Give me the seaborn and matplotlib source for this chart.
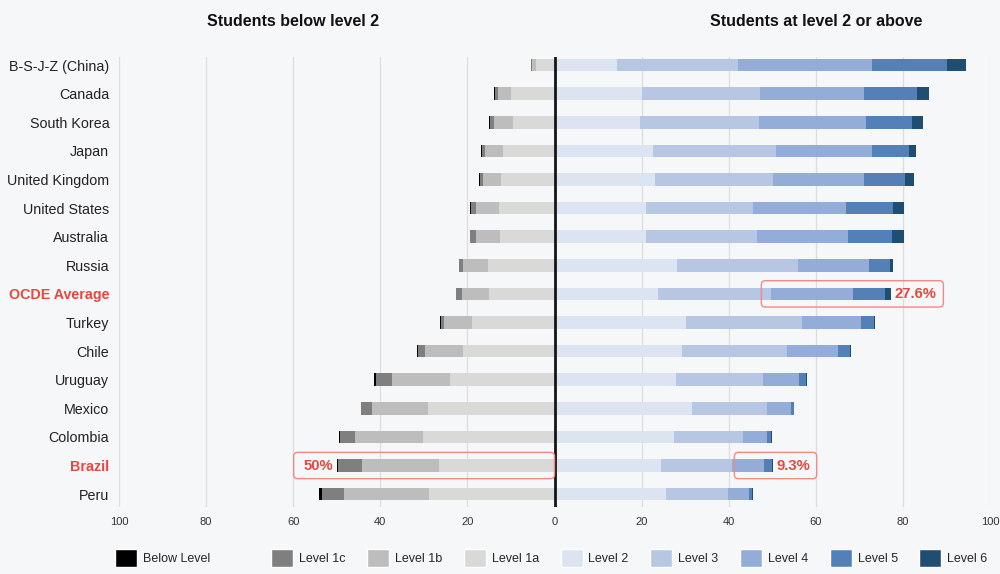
import numpy as np
import pandas as pd
import matplotlib.pyplot as plt
import matplotlib.transforms as mtransforms
from matplotlib.patches import FancyBboxPatch, Patch
import seaborn as sns

# Datos: PISA 2018 lectura, % de estudiantes por nivel
countries = ["B-S-J-Z (China)", "Canada", "South Korea", "Japan", "United Kingdom",
             "United States", "Australia", "Russia", "OCDE Average", "Turkey", "Chile",
             "Uruguay", "Mexico", "Colombia", "Brazil", "Peru"]

below_level = [0.0, 0.1, 0.2, 0.1, 0.1, 0.2, 0.2, 0.1, 0.1, 0.1, 0.2, 0.3, 0.1, 0.3, 0.4, 0.5]
level_1c = [0.2, 0.8, 1.1, 0.7, 0.8, 1.1, 1.3, 1.0, 1.4, 0.8, 1.6, 3.8, 2.4, 3.3, 5.3, 5.2]
level_1b = [0.8, 3.0, 4.3, 4.1, 4.1, 5.4, 5.5, 5.6, 6.2, 6.3, 8.8, 13.4, 13.0, 15.7, 17.7, 19.5]
level_1a = [4.3, 9.9, 9.5, 11.9, 12.3, 12.7, 12.5, 15.3, 15.0, 19.0, 21.0, 23.9, 29.0, 30.2, 26.6, 28.8]

level_2 = [14.3, 20.1, 19.6, 22.6, 23.1, 21.0, 21.0, 28.1, 23.7, 30.1, 29.3, 28.0, 31.6, 27.5, 24.5, 25.7]
level_3 = [27.8, 27.0, 27.4, 28.3, 27.1, 24.6, 25.4, 27.8, 26.0, 26.8, 24.2, 19.9, 17.3, 15.8, 16.3, 14.2]
level_4 = [30.7, 24.0, 24.5, 21.9, 20.9, 21.4, 20.9, 16.3, 18.9, 13.4, 11.7, 8.3, 5.5, 5.5, 7.4, 4.7]
level_5 = [17.4, 12.1, 10.7, 8.6, 9.4, 10.7, 10.3, 4.9, 7.4, 3.1, 2.6, 1.5, 0.5, 1.0, 1.7, 0.8]
level_6 = [4.3, 2.9, 2.4, 1.6, 2.1, 2.6, 2.6, 0.6, 1.3, 0.3, 0.2, 0.2, 0.0, 0.1, 0.2, 0.1]

left_names = ["Below Level", "Level 1c", "Level 1b", "Level 1a"]
right_names = ["Level 2", "Level 3", "Level 4", "Level 5", "Level 6"]
left_colors = ["#000000", "#7f7f7f", "#bdbdbd", "#d9d9d7"]
right_colors = ["#dce4f2", "#b7c6e3", "#94acd8", "#5480b8", "#1f4e72"]

highlight = ["OCDE Average", "Brazil"]
RED = "#e8463e"
BG = "#f6f7f9"

df = pd.DataFrame({"country": countries,
                   "Below Level": below_level, "Level 1c": level_1c,
                   "Level 1b": level_1b, "Level 1a": level_1a,
                   "Level 2": level_2, "Level 3": level_3, "Level 4": level_4,
                   "Level 5": level_5, "Level 6": level_6})

sns.set_theme(style="white")
plt.rcParams["font.family"] = ["Liberation Sans", "DejaVu Sans"]

fig = plt.figure(figsize=(10, 5.74), dpi=100, facecolor=BG)
ax = fig.add_axes([0.119, 1 - 507 / 574, 0.871, 450 / 574])
ax.set_facecolor(BG)

BAR_W = 0.44

# lado izquierdo: acumulados negativos, se dibuja primero el más largo
for idx, col in enumerate(left_colors):
    cols = left_names[idx:]
    vals = -df[cols].sum(axis=1)
    sns.barplot(x=vals, y=df["country"], color=col, saturation=1, width=BAR_W,
                orient="h", errorbar=None, linewidth=0, ax=ax)

# lado derecho: acumulados positivos
for i in range(len(right_names) - 1, -1, -1):
    vals = df[right_names[:i + 1]].sum(axis=1)
    sns.barplot(x=vals, y=df["country"], color=right_colors[i], saturation=1,
                width=BAR_W, orient="h", errorbar=None, linewidth=0, ax=ax)

ax.axvline(0, color="#151515", lw=2, zorder=5)

ax.set_xlim(-100, 100)
ax.set_ylim(15.45, -0.28)
ticks = np.arange(-100, 101, 20)
ax.set_xticks(ticks)
ax.set_xticklabels([str(abs(t)) for t in ticks], fontsize=8, color="#333333")
ax.set_yticks(range(len(countries)))
ax.set_yticklabels(countries, fontsize=10.3, color="#222222")
for lab in ax.get_yticklabels():
    if lab.get_text() in highlight:
        lab.set_color(RED)
        lab.set_fontweight("bold")
ax.tick_params(axis="x", length=0, pad=7)
ax.tick_params(axis="y", length=0, pad=7)
ax.set_xlabel("")
ax.set_ylabel("")
ax.grid(axis="x", color="#dddddd", lw=0.9)
ax.grid(axis="y", visible=False)
ax.set_axisbelow(True)
for s in ax.spines.values():
    s.set_visible(False)

# títulos de cada lado
trans = mtransforms.blended_transform_factory(ax.transData, fig.transFigure)
ax.text(-60, 0.9617, "Students below level 2", transform=trans, ha="center",
        va="center", fontsize=11.5, fontweight="bold", color="#111111")
ax.text(60, 0.9617, "Students at level 2 or above", transform=trans, ha="center",
        va="center", fontsize=11.5, fontweight="bold", color="#111111")

# cajas de anotación
px_x = 871 / 200.0   # píxeles por unidad en x
px_y = 450 / 15.73   # píxeles por fila
aspect = px_x / px_y


def box(x0, x1, row, text, tx):
    r = 4 / px_x
    p = FancyBboxPatch((x0, row - 0.46), x1 - x0, 0.92,
                       boxstyle=f"round,pad=0,rounding_size={r}",
                       mutation_aspect=aspect, fill=False, edgecolor="#f08a86",
                       lw=1.0, zorder=6, clip_on=False)
    ax.add_patch(p)
    ax.text(tx, row, text, ha="left", va="center", fontsize=10.7,
            fontweight="bold", color=RED, zorder=7)


i_oecd = countries.index("OCDE Average")
i_bra = countries.index("Brazil")
oecd_top = level_4[i_oecd] + level_5[i_oecd] + level_6[i_oecd]
bra_top = level_4[i_bra] + level_5[i_bra] + level_6[i_bra]
bra_low = below_level[i_bra] + level_1c[i_bra] + level_1b[i_bra] + level_1a[i_bra]

box(47.5, 89.3, i_oecd, f"{oecd_top:.1f}%", 78.1)
box(-59.9, 0.0, i_bra, f"{bra_low:.0f}%", -57.6)
box(41.3, 60.2, i_bra, f"{bra_top:.1f}%", 50.9)

# leyenda
leg_kw = dict(frameon=False, fontsize=9, handlelength=1.76, handleheight=1.76,
              handletextpad=0.48, borderpad=0, borderaxespad=0, loc="center left")
h0 = [Patch(facecolor=left_colors[0], label=left_names[0])]
fig.legend(handles=h0, bbox_to_anchor=(0.115, 0.028), **leg_kw)
h1 = [Patch(facecolor=c, label=n) for n, c in
      zip(left_names[1:] + right_names, left_colors[1:] + right_colors)]
fig.legend(handles=h1, bbox_to_anchor=(0.271, 0.028), ncol=8, columnspacing=1.72,
           **leg_kw)

fig.savefig("out.png", dpi=100, facecolor=BG)
